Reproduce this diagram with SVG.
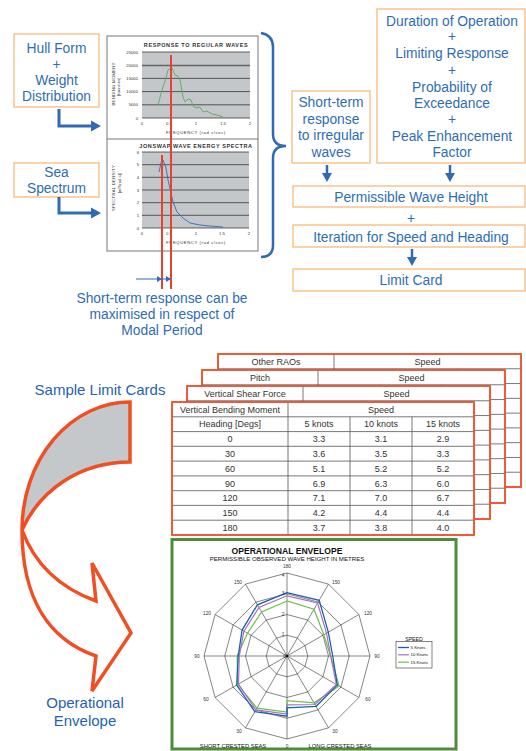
<svg xmlns="http://www.w3.org/2000/svg" xmlns:xlink="http://www.w3.org/1999/xlink" width="526" height="751" viewBox="0 0 526 751">
<style>
.lbl{font-family:"Liberation Sans",Arial,sans-serif;font-size:13.8px;fill:#2e6db4;text-anchor:middle}
.big{font-family:"Liberation Sans",Arial,sans-serif;font-size:15px;fill:#2563b0;text-anchor:middle}
.box{fill:#fff;stroke:#f9c28c;stroke-width:1.5}
.blue{stroke:#2f6bb5;fill:none}
.head{fill:#2f6bb5}
.red{stroke:#e8412c;stroke-width:2}
.tiny{font-family:"Liberation Sans",Arial,sans-serif;font-size:4.2px;fill:#333}
.ctitle{font-family:"Liberation Sans",Arial,sans-serif;font-size:5.5px;font-weight:bold;fill:#333;letter-spacing:0.6px;text-anchor:middle}
.plot{fill:#c3c7c9}
.grid{stroke:#222;stroke-width:0.7}
.tbl{font-family:"Liberation Sans",Arial,sans-serif;font-size:9px;fill:#333;text-anchor:middle}
.card{fill:#fff;stroke:#f0502a;stroke-width:1.5}
.cl{stroke:#555;stroke-width:0.8}
.pg{fill:none;stroke:#333;stroke-width:0.6}
.pl{font-family:"Liberation Sans",Arial,sans-serif;font-size:4.8px;fill:#333;text-anchor:middle}
</style>
<defs>
<g id="card">
<rect class="card" x="0" y="0" width="303" height="133"/>
<g class="cl">
<line x1="0" y1="14.78" x2="303" y2="14.78"/>
<line x1="0" y1="29.56" x2="303" y2="29.56"/>
<line x1="0" y1="44.33" x2="303" y2="44.33"/>
<line x1="0" y1="59.11" x2="303" y2="59.11"/>
<line x1="0" y1="73.89" x2="303" y2="73.89"/>
<line x1="0" y1="88.67" x2="303" y2="88.67"/>
<line x1="0" y1="103.44" x2="303" y2="103.44"/>
<line x1="0" y1="118.22" x2="303" y2="118.22"/>
<line x1="116" y1="0" x2="116" y2="133"/>
<line x1="178" y1="14.78" x2="178" y2="133"/>
<line x1="240" y1="14.78" x2="240" y2="133"/>
</g>
<rect x="0" y="0" width="303" height="133" fill="none" stroke="#f0502a" stroke-width="1.5"/>
</g>
</defs>
<rect width="526" height="751" fill="#fff"/>

<g id="hull-form">
<rect class="box" x="14" y="34" width="85" height="73"/>
<text class="lbl" x="56.5" y="52.5">Hull Form</text>
<text class="lbl" x="56.5" y="68.5">+</text>
<text class="lbl" x="56.5" y="84.5">Weight</text>
<text class="lbl" x="56.5" y="101">Distribution</text>
</g>

<g id="sea-spectrum">
<rect class="box" x="14" y="163" width="85" height="34"/>
<text class="lbl" x="56.5" y="177">Sea</text>
<text class="lbl" x="56.5" y="193">Spectrum</text>
</g>

<g id="charts">
<rect x="107" y="36" width="151" height="215" fill="#fff" stroke="#777" stroke-width="1"/>
<line x1="107" y1="139" x2="258" y2="139" stroke="#777" stroke-width="1"/>
<text class="ctitle" x="196" y="47">RESPONSE TO REGULAR WAVES</text>
<rect class="plot" x="142" y="52" width="108" height="66"/>
<g class="grid">
<line x1="142" y1="52" x2="250" y2="52"/>
<line x1="142" y1="78.4" x2="250" y2="78.4"/>
<line x1="142" y1="91.6" x2="250" y2="91.6"/>
<line x1="142" y1="104.8" x2="250" y2="104.8"/>
<line x1="142" y1="118" x2="250" y2="118"/>
</g>
<line x1="142" y1="65.5" x2="250" y2="65.5" stroke="#666" stroke-width="1.6"/>
<g class="tiny" text-anchor="end">
<text x="138" y="53.5">25000</text><text x="138" y="66.7">20000</text><text x="138" y="79.9">15000</text><text x="138" y="93.1">10000</text><text x="138" y="106.3">5000</text><text x="138" y="119.5">0</text>
</g>
<g class="tiny" text-anchor="middle">
<text x="142" y="125">0</text><text x="169" y="125">0.5</text><text x="196" y="125">1</text><text x="223" y="125">1.5</text><text x="250" y="125">2</text>
</g>
<text class="tiny" x="196" y="133.5" text-anchor="middle" letter-spacing="0.6">FREQUENCY  (rad s/sec)</text>
<text class="tiny" transform="translate(115,84) rotate(-90)" text-anchor="middle" letter-spacing="0.3">BENDING MOMENT</text>
<text class="tiny" transform="translate(120,87) rotate(-90)" text-anchor="middle">[tonne-m]</text>
<polyline fill="none" stroke="#5aa86a" stroke-width="0.9" points="158,105 162,90 166,78 168,70 172,68 175,75 178,76 180,80 183,97 185,102 188,99 191,100 193,106 196,108 200,107 203,112 207,111 212,114 217,115 223,117"/>

<text class="ctitle" x="196" y="148">JONSWAP WAVE ENERGY SPECTRA</text>
<rect class="plot" x="142" y="152" width="107" height="76"/>
<g class="grid">
<line x1="142" y1="152" x2="249" y2="152"/>
<line x1="142" y1="164.7" x2="249" y2="164.7"/>
<line x1="142" y1="177.3" x2="249" y2="177.3"/>
<line x1="142" y1="190" x2="249" y2="190"/>
<line x1="142" y1="202.7" x2="249" y2="202.7"/>
<line x1="142" y1="215.3" x2="249" y2="215.3"/>
<line x1="142" y1="228" x2="249" y2="228"/>
</g>
<g class="tiny" text-anchor="end">
<text x="139" y="153.5">6</text><text x="139" y="166.2">5</text><text x="139" y="178.8">4</text><text x="139" y="191.5">3</text><text x="139" y="204.2">2</text><text x="139" y="216.8">1</text><text x="139" y="229.5">0</text>
</g>
<g class="tiny" text-anchor="middle">
<text x="142" y="235">0</text><text x="169" y="235">0.5</text><text x="196" y="235">1</text><text x="222" y="235">1.5</text><text x="249" y="235">2</text>
</g>
<text class="tiny" x="196" y="243.5" text-anchor="middle" letter-spacing="0.6">FREQUENCY  (rad s/sec)</text>
<text class="tiny" transform="translate(115,188) rotate(-90)" text-anchor="middle" letter-spacing="0.3">SPECTRAL DENSITY</text>
<text class="tiny" transform="translate(121,183) rotate(-90)" text-anchor="middle">[m²/(rad s)]</text>
<polyline fill="none" stroke="#2f6bb5" stroke-width="0.9" points="159,172 161,163 163,160 166,168 168,180 171,193 173,202 177,212 183,218 190,223 200,225 210,226 223,227"/>
<line class="red" x1="171" y1="55" x2="171" y2="289"/>
<line class="red" x1="162" y1="155" x2="162" y2="289"/>
</g>

<g id="brace">
<path class="blue" stroke-width="2.5" d="M261,33 Q273,35 273,47 L273,134 Q273,146 286,146 Q273,146 273,158 L273,245 Q273,257 261,257"/>
</g>

<g id="short-term">
<rect class="box" x="292" y="91" width="78" height="72"/>
<text class="lbl" x="331" y="107">Short-term</text>
<text class="lbl" x="331" y="123.5">response</text>
<text class="lbl" x="331" y="140">to irregular</text>
<text class="lbl" x="331" y="156.5">waves</text>
</g>

<g id="criteria">
<rect class="box" x="377" y="9" width="148" height="154"/>
<text class="lbl" x="452" y="25.7">Duration of Operation</text>
<text class="lbl" x="452" y="40.5">+</text>
<text class="lbl" x="452" y="58">Limiting Response</text>
<text class="lbl" x="452" y="74.5">+</text>
<text class="lbl" x="452" y="91.5">Probability of</text>
<text class="lbl" x="452" y="107.5">Exceedance</text>
<text class="lbl" x="452" y="123.5">+</text>
<text class="lbl" x="452" y="140.7">Peak Enhancement</text>
<text class="lbl" x="452" y="157">Factor</text>
</g>

<g id="permissible">
<rect class="box" x="293" y="186" width="232" height="21"/>
<text class="lbl" x="411" y="202">Permissible Wave Height</text>
</g>
<text class="lbl" x="411" y="222.5">+</text>
<g id="iteration">
<rect class="box" x="293" y="225" width="232" height="22"/>
<text class="lbl" x="411" y="241.5">Iteration for Speed and Heading</text>
</g>
<g id="limit-card">
<rect class="box" x="293" y="269" width="232" height="22"/>
<text class="lbl" x="411" y="285">Limit Card</text>
</g>

<g id="connectors">
<path class="blue" stroke-width="3" d="M59,109 V126 H92"/>
<polygon class="head" points="91,120.5 101,126 91,131.5"/>
<path class="blue" stroke-width="3" d="M59,197 V213 H92"/>
<polygon class="head" points="91,207.5 101,213 91,218.5"/>
<line class="blue" stroke-width="2.5" x1="327" y1="165" x2="327" y2="174"/>
<polygon class="head" points="322,173 332,173 327,182"/>
<line class="blue" stroke-width="2.5" x1="450" y1="165" x2="450" y2="174"/>
<polygon class="head" points="445,173 455,173 450,182"/>
<line class="blue" stroke-width="2.5" x1="412" y1="249" x2="412" y2="258"/>
<polygon class="head" points="407,257 417,257 412,266"/>
<line class="blue" stroke-width="1" x1="136" y1="279" x2="170" y2="279"/>
<polygon class="head" points="157,276 162,279 157,282"/>
<polygon class="head" points="166,276 171,279 166,282"/>
</g>

<g id="modal-note">
<text class="lbl" x="162" y="303">Short-term response can be</text>
<text class="lbl" x="162" y="319">maximised in respect of</text>
<text class="lbl" x="162" y="335">Modal Period</text>
</g>

<g id="sample-label">
<text class="big" x="100" y="395">Sample Limit Cards</text>
</g>

<g id="limit-cards">
<use xlink:href="#card" href="#card" x="218" y="354"/>
<text class="tbl" x="276" y="364.8">Other RAOs</text>
<text class="tbl" x="427.5" y="364.8">Speed</text>
<use xlink:href="#card" href="#card" x="202" y="370"/>
<text class="tbl" x="260" y="380.8">Pitch</text>
<text class="tbl" x="411.5" y="380.8">Speed</text>
<use xlink:href="#card" href="#card" x="187" y="386"/>
<text class="tbl" x="245" y="396.8">Vertical Shear Force</text>
<text class="tbl" x="396.5" y="396.8">Speed</text>
<g id="card-vbm">
<rect class="card" x="172" y="402" width="302" height="133"/>
<g class="cl">
<line x1="172" y1="416.8" x2="474" y2="416.8"/>
<line x1="172" y1="431.6" x2="474" y2="431.6"/>
<line x1="172" y1="446.3" x2="474" y2="446.3"/>
<line x1="172" y1="461.1" x2="474" y2="461.1"/>
<line x1="172" y1="475.9" x2="474" y2="475.9"/>
<line x1="172" y1="490.7" x2="474" y2="490.7"/>
<line x1="172" y1="505.4" x2="474" y2="505.4"/>
<line x1="172" y1="520.2" x2="474" y2="520.2"/>
<line x1="288" y1="402" x2="288" y2="535"/>
<line x1="350" y1="416.8" x2="350" y2="535"/>
<line x1="412" y1="416.8" x2="412" y2="535"/>
</g>
<rect x="172" y="402" width="302" height="133" fill="none" stroke="#f0502a" stroke-width="1.5"/>
<text class="tbl" x="230" y="412.6">Vertical Bending Moment</text>
<text class="tbl" x="381" y="412.6">Speed</text>
<text class="tbl" x="230" y="427.4">Heading [Degs]</text>
<text class="tbl" x="319" y="427.4">5 knots</text>
<text class="tbl" x="381" y="427.4">10 knots</text>
<text class="tbl" x="443" y="427.4">15 knots</text>
<text class="tbl" x="230" y="442.2">0</text><text class="tbl" x="319" y="442.2">3.3</text><text class="tbl" x="381" y="442.2">3.1</text><text class="tbl" x="443" y="442.2">2.9</text>
<text class="tbl" x="230" y="457">30</text><text class="tbl" x="319" y="457">3.6</text><text class="tbl" x="381" y="457">3.5</text><text class="tbl" x="443" y="457">3.3</text>
<text class="tbl" x="230" y="471.7">60</text><text class="tbl" x="319" y="471.7">5.1</text><text class="tbl" x="381" y="471.7">5.2</text><text class="tbl" x="443" y="471.7">5.2</text>
<text class="tbl" x="230" y="486.5">90</text><text class="tbl" x="319" y="486.5">6.9</text><text class="tbl" x="381" y="486.5">6.3</text><text class="tbl" x="443" y="486.5">6.0</text>
<text class="tbl" x="230" y="501.3">120</text><text class="tbl" x="319" y="501.3">7.1</text><text class="tbl" x="381" y="501.3">7.0</text><text class="tbl" x="443" y="501.3">6.7</text>
<text class="tbl" x="230" y="516.1">150</text><text class="tbl" x="319" y="516.1">4.2</text><text class="tbl" x="381" y="516.1">4.4</text><text class="tbl" x="443" y="516.1">4.4</text>
<text class="tbl" x="230" y="530.8">180</text><text class="tbl" x="319" y="530.8">3.7</text><text class="tbl" x="381" y="530.8">3.8</text><text class="tbl" x="443" y="530.8">4.0</text>
</g>
</g>

<g id="curved-arrow">
<path d="M130,402 A108,128 0 0 0 22,530 C40,490 80,462 130,462 Z" fill="#c4c8ca" stroke="#f04e23" stroke-width="3.5" stroke-linejoin="miter"/>
<path d="M22,530 C22,600 50,640 96,656 L92,691 L131,633 L92,563 L96,601 C60,588 35,565 22,530 Z" fill="#fff" stroke="#f04e23" stroke-width="3.5" stroke-linejoin="miter"/>
</g>

<g id="envelope-label">
<text class="big" x="85" y="708">Operational</text>
<text class="big" x="85" y="726">Envelope</text>
</g>

<g id="operational-envelope">
<rect x="172" y="539.5" width="284" height="209.5" fill="#fff" stroke="#4e8c3c" stroke-width="3"/>
<text x="287" y="553.5" font-family="'Liberation Sans',Arial,sans-serif" font-size="8.6" font-weight="bold" fill="#111" text-anchor="middle">OPERATIONAL ENVELOPE</text>
<text x="287" y="561" font-family="'Liberation Sans',Arial,sans-serif" font-size="6.1" fill="#111" text-anchor="middle">PERMISSIBLE OBSERVED WAVE HEIGHT IN METRES</text>
<polygon class="pg" points="287,573 328.5,584.1 358.9,614.5 370,656 358.9,697.5 328.5,727.9 287,739 245.5,727.9 215.1,697.5 204,656 215.1,614.5 245.5,584.1"/>
<polygon class="pg" points="287,593.75 318.1,602.1 340.9,624.9 349.25,656 340.9,687.1 318.1,709.9 287,718.25 255.9,709.9 233.1,687.1 224.75,656 233.1,624.9 255.9,602.1"/>
<polygon class="pg" points="287,614.5 307.75,620.06 322.94,635.25 328.5,656 322.94,676.75 307.75,691.94 287,697.5 266.25,691.94 251.06,676.75 245.5,656 251.06,635.25 266.25,620.06"/>
<polygon class="pg" points="287,635.25 297.4,638 305,645.6 307.75,656 305,666.4 297.4,674 287,676.75 276.6,674 269,666.4 266.25,656 269,645.6 276.6,638"/>
<g class="pg">
<line x1="287" y1="573" x2="287" y2="739"/>
<line x1="328.5" y1="584.1" x2="245.5" y2="727.9"/>
<line x1="358.9" y1="614.5" x2="215.1" y2="697.5"/>
<line x1="370" y1="656" x2="204" y2="656"/>
<line x1="358.9" y1="697.5" x2="215.1" y2="614.5"/>
<line x1="328.5" y1="727.9" x2="245.5" y2="584.1"/>
</g>
<polygon fill="none" stroke="#6cc04a" stroke-width="1.2" points="287,601 261.6,612 247.5,633.2 237.2,656 237.6,684.5 256.9,708.1 287,712 287,700.6 314,702.8 339.1,686.1 330.6,656 323.8,634.7 314,609.2"/>
<polygon fill="none" stroke="#a373c6" stroke-width="1.2" points="287,595.8 259,607.5 243.9,631.1 239.3,656 238.5,684 255.9,709.9 287,714.1 287,704.8 315,704.5 336.4,684.5 330.6,656 326.5,633.2 317.6,603"/>
<polygon fill="none" stroke="#1f5fb0" stroke-width="1.3" points="287,592.7 257.4,604.8 242.1,630.1 238.2,656 236.7,685.1 254.8,711.7 287,716.2 287,707.9 316.1,706.3 337.3,685.1 332.7,656 328.3,632.1 319.2,600.3"/>
<circle cx="287" cy="656" r="1.3" fill="#111"/>
<g class="pl">
<text x="287" y="567.5">180</text>
<text x="238" y="583.5">150</text><text x="336" y="583.5">150</text>
<text x="207" y="614.5">120</text><text x="368" y="614.5">120</text>
<text x="197" y="657.5">90</text><text x="377" y="657.5">90</text>
<text x="206" y="700.5">60</text><text x="368" y="700.5">60</text>
<text x="239" y="732.5">30</text><text x="335" y="732.5">30</text>
<text x="287" y="747.5">0</text>
<text x="283" y="576.5">4</text><text x="283" y="595">3</text><text x="283" y="615.5">2</text><text x="283" y="636">1</text><text x="284.5" y="657.5">0</text>
</g>
<text x="233" y="747.5" font-family="'Liberation Sans',Arial,sans-serif" font-size="5.8" fill="#111" text-anchor="middle">SHORT CRESTED SEAS</text>
<text x="340" y="747.5" font-family="'Liberation Sans',Arial,sans-serif" font-size="5.8" fill="#111" text-anchor="middle">LONG CRESTED SEAS</text>
<g id="legend">
<text x="414" y="640.5" font-family="'Liberation Sans',Arial,sans-serif" font-size="5.2" fill="#111" text-anchor="middle">SPEED</text>
<rect x="396" y="641.5" width="36" height="26.5" fill="#fff" stroke="#333" stroke-width="0.6"/>
<line x1="398" y1="647.5" x2="409" y2="647.5" stroke="#1f5fb0" stroke-width="1.3"/>
<line x1="398" y1="654.8" x2="409" y2="654.8" stroke="#a373c6" stroke-width="1.2"/>
<line x1="398" y1="662.2" x2="409" y2="662.2" stroke="#6cc04a" stroke-width="1.2"/>
<g font-family="'Liberation Sans',Arial,sans-serif" font-size="4.4" fill="#111">
<text x="410.5" y="649">5 Knots</text>
<text x="410.5" y="656.3">10 Knots</text>
<text x="410.5" y="663.7">15 Knots</text>
</g>
</g>
</g>
</svg>
